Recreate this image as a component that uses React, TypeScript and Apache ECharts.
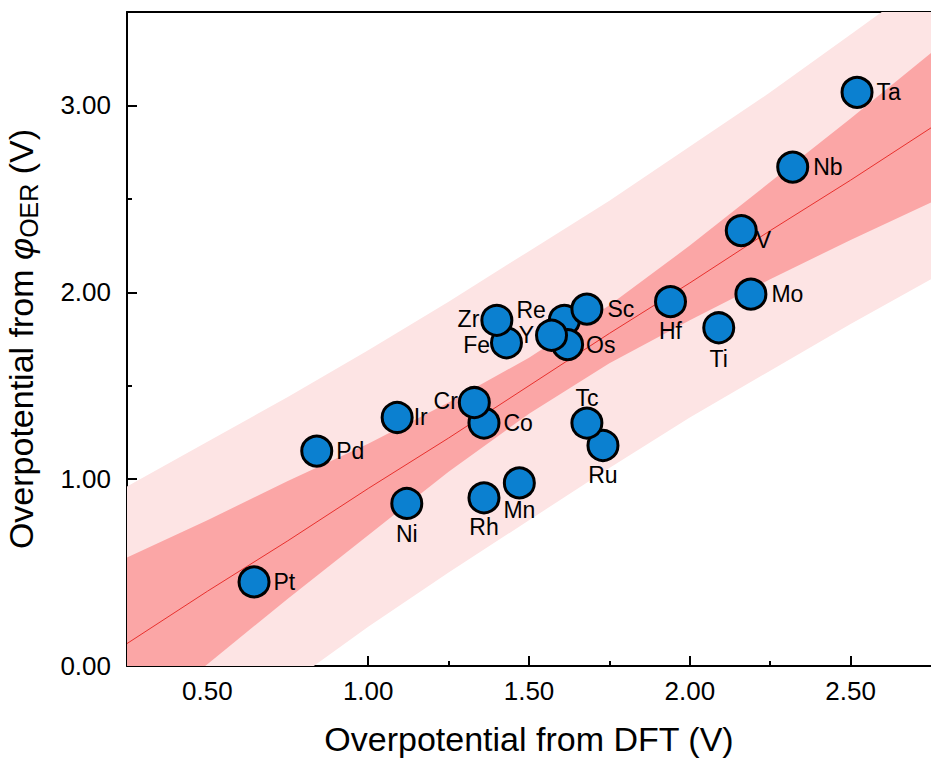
import React, { useEffect, useRef } from "react";
import * as echarts from "echarts";

// ---- data ----
const elements = ["Pt", "Pd", "Ir", "Ni", "Co", "Cr", "Rh", "Mn", "Fe", "Zr", "Re", "Os", "Sc", "Y", "Ru", "Tc", "Hf", "Ti", "Mo", "V", "Nb", "Ta"];
const dftValues = [0.645, 0.84, 1.09, 1.12, 1.36, 1.33, 1.36, 1.47, 1.43, 1.40, 1.61, 1.62, 1.68, 1.57, 1.73, 1.68, 1.94, 2.09, 2.19, 2.16, 2.32, 2.52];
const phiValues = [0.45, 1.15, 1.33, 0.87, 1.30, 1.41, 0.90, 0.98, 1.73, 1.85, 1.85, 1.72, 1.91, 1.77, 1.18, 1.30, 1.95, 1.81, 1.99, 2.33, 2.67, 3.07];

// regression line and bands (read at regular x positions)
const bandX = [0.25, 0.5, 0.75, 1.0, 1.25, 1.5, 1.75, 2.0, 2.25, 2.5, 2.75];
const fitValues = [0.12, 0.40, 0.67, 0.95, 1.22, 1.50, 1.78, 2.05, 2.33, 2.60, 2.88];
const confUpper = [0.58, 0.78, 0.99, 1.19, 1.41, 1.65, 1.93, 2.25, 2.59, 2.93, 3.28];
const confLower = [-0.34, 0.01, 0.36, 0.70, 1.04, 1.35, 1.62, 1.85, 2.07, 2.28, 2.48];
const predUpper = [0.96, 1.20, 1.44, 1.69, 1.95, 2.22, 2.49, 2.78, 3.07, 3.38, 3.69];
const predLower = [-0.72, -0.40, -0.10, 0.21, 0.50, 0.78, 1.06, 1.33, 1.58, 1.83, 2.07];

const xMajorTicks = [0.5, 1.0, 1.5, 2.0, 2.5];
const xMinorTicks = [0.75, 1.25, 1.75, 2.25];
const yMajorTicks = [0, 1, 2, 3];
const yMinorTicks = [0.5, 1.5, 2.5];

// ---- label placement (layout only) ----
const labelPlacement: Record<string, { position: string; distance: number; offset?: number[] }> = {
  Pt: { position: "right", distance: 3 },
  Pd: { position: "right", distance: 3 },
  Ir: { position: "right", distance: 0 },
  Ni: { position: "bottom", distance: 3 },
  Co: { position: "right", distance: 3 },
  Cr: { position: "left", distance: 0, offset: [0, -2] },
  Rh: { position: "bottom", distance: 1 },
  Mn: { position: "bottom", distance: -1 },
  Fe: { position: "left", distance: 0, offset: [0, 2] },
  Zr: { position: "left", distance: 1, offset: [0, -1] },
  Re: { position: "left", distance: 2, offset: [0, -10] },
  Os: { position: "right", distance: 2 },
  Sc: { position: "right", distance: 4 },
  Y: { position: "left", distance: 1 },
  Ru: { position: "bottom", distance: 1 },
  Tc: { position: "top", distance: -3 },
  Hf: { position: "bottom", distance: 1 },
  Ti: { position: "bottom", distance: 3 },
  Mo: { position: "right", distance: 4 },
  V: { position: "right", distance: 0, offset: [-2, 9] },
  Nb: { position: "right", distance: 4 },
  Ta: { position: "right", distance: 3 },
};

const FONT = "'Liberation Sans', Arial, Helvetica, sans-serif";
const X_MIN = 0.25, X_MAX = 2.75, Y_MIN = 0, Y_MAX = 3.5;

function bandSeries(upper: number[], lower: number[], color: string, z: number) {
  return {
    type: "custom",
    coordinateSystem: "cartesian2d",
    xAxisIndex: 0,
    yAxisIndex: 0,
    clip: true,
    silent: true,
    z,
    data: [[1, 1]],
    renderItem: (_params: any, api: any) => {
      const pts: number[][] = [];
      for (let i = 0; i < bandX.length; i++) pts.push(api.coord([bandX[i], upper[i]]));
      for (let i = bandX.length - 1; i >= 0; i--) pts.push(api.coord([bandX[i], lower[i]]));
      return { type: "polygon", shape: { points: pts }, style: { fill: color } };
    },
  };
}

export default function App() {
  const ref = useRef<HTMLDivElement>(null);
  useEffect(() => {
    document.body.style.margin = "0";
    if (!ref.current) return;
    const chart = echarts.init(ref.current, null, { renderer: "svg" });
    const axisLineStyle = { color: "#000", width: 2 };
    const tickLabelStyle = { fontSize: 26, color: "#000", fontFamily: FONT };
    const nameStyle = { fontSize: 34, color: "#000", fontFamily: FONT };

    const scatterData = elements.map((el, i) => {
      const p = labelPlacement[el];
      return {
        name: el,
        value: [dftValues[i], phiValues[i]],
        label: {
          show: true,
          formatter: el,
          position: p.position,
          distance: p.distance,
          offset: p.offset || [0, 0],
          fontSize: 23,
          color: "#000",
          fontFamily: FONT,
        },
      };
    });

    chart.setOption({
      animation: false,
      backgroundColor: "#fff",
      grid: { left: 127, right: 0, top: 12, bottom: 96, containLabel: false, outerBoundsMode: "none" },
      xAxis: [
        {
          type: "value",
          min: X_MIN,
          max: X_MAX,
          position: "bottom",
          axisLine: { show: true, onZero: false, lineStyle: axisLineStyle },
          axisTick: { show: true, inside: true, length: 10, lineStyle: axisLineStyle, customValues: xMajorTicks },
          axisLabel: { ...tickLabelStyle, margin: 12, customValues: xMajorTicks, formatter: (v: number) => v.toFixed(2) },
          splitLine: { show: false },
          name: "Overpotential from DFT (V)",
          nameLocation: "middle",
          nameGap: 56,
          nameTextStyle: nameStyle,
        },
        {
          type: "value",
          min: X_MIN,
          max: X_MAX,
          position: "bottom",
          axisLine: { show: false, onZero: false },
          axisTick: { show: true, inside: true, length: 5, lineStyle: axisLineStyle, customValues: xMinorTicks },
          axisLabel: { show: false },
          splitLine: { show: false },
        },
        {
          type: "value",
          min: X_MIN,
          max: X_MAX,
          position: "top",
          axisLine: { show: true, onZero: false, lineStyle: axisLineStyle },
          axisTick: { show: false },
          axisLabel: { show: false },
          splitLine: { show: false },
        },
      ],
      yAxis: [
        {
          type: "value",
          min: Y_MIN,
          max: Y_MAX,
          position: "left",
          axisLine: { show: true, onZero: false, lineStyle: axisLineStyle },
          axisTick: { show: true, inside: true, length: 10, lineStyle: axisLineStyle, customValues: yMajorTicks },
          axisLabel: { ...tickLabelStyle, margin: 16, customValues: yMajorTicks, formatter: (v: number) => v.toFixed(2) },
          splitLine: { show: false },
          name: "Overpotential from {phi|φ}{sub|OER} (V)",
          nameLocation: "middle",
          nameRotate: 90,
          nameGap: 86,
          nameTextStyle: {
            ...nameStyle,
            lineHeight: 40,
            rich: {
              phi: { fontSize: 34, fontStyle: "italic", fontFamily: FONT, color: "#000", lineHeight: 40 },
              sub: { fontSize: 25, fontFamily: FONT, color: "#000", lineHeight: 25, verticalAlign: "bottom" },
            },
          },
        },
        {
          type: "value",
          min: Y_MIN,
          max: Y_MAX,
          position: "left",
          axisLine: { show: false, onZero: false },
          axisTick: { show: true, inside: true, length: 5, lineStyle: axisLineStyle, customValues: yMinorTicks },
          axisLabel: { show: false },
          splitLine: { show: false },
        },
      ],
      series: [
        bandSeries(predUpper, predLower, "#fde4e4", 1),
        bandSeries(confUpper, confLower, "#fba6a6", 2),
        {
          type: "line",
          xAxisIndex: 0,
          yAxisIndex: 0,
          data: bandX.map((x, i) => [x, fitValues[i]]),
          showSymbol: false,
          symbol: "none",
          lineStyle: { color: "#e8302d", width: 1 },
          silent: true,
          z: 3,
        },
        {
          type: "scatter",
          xAxisIndex: 0,
          yAxisIndex: 0,
          symbol: "circle",
          symbolSize: 30,
          itemStyle: { color: "#0b80d0", borderColor: "#000", borderWidth: 3, opacity: 1 },
          data: scatterData,
          z: 5,
        },
      ],
    });
    return () => chart.dispose();
  }, []);
  return <div ref={ref} style={{ width: 931, height: 762 }} />;
}
